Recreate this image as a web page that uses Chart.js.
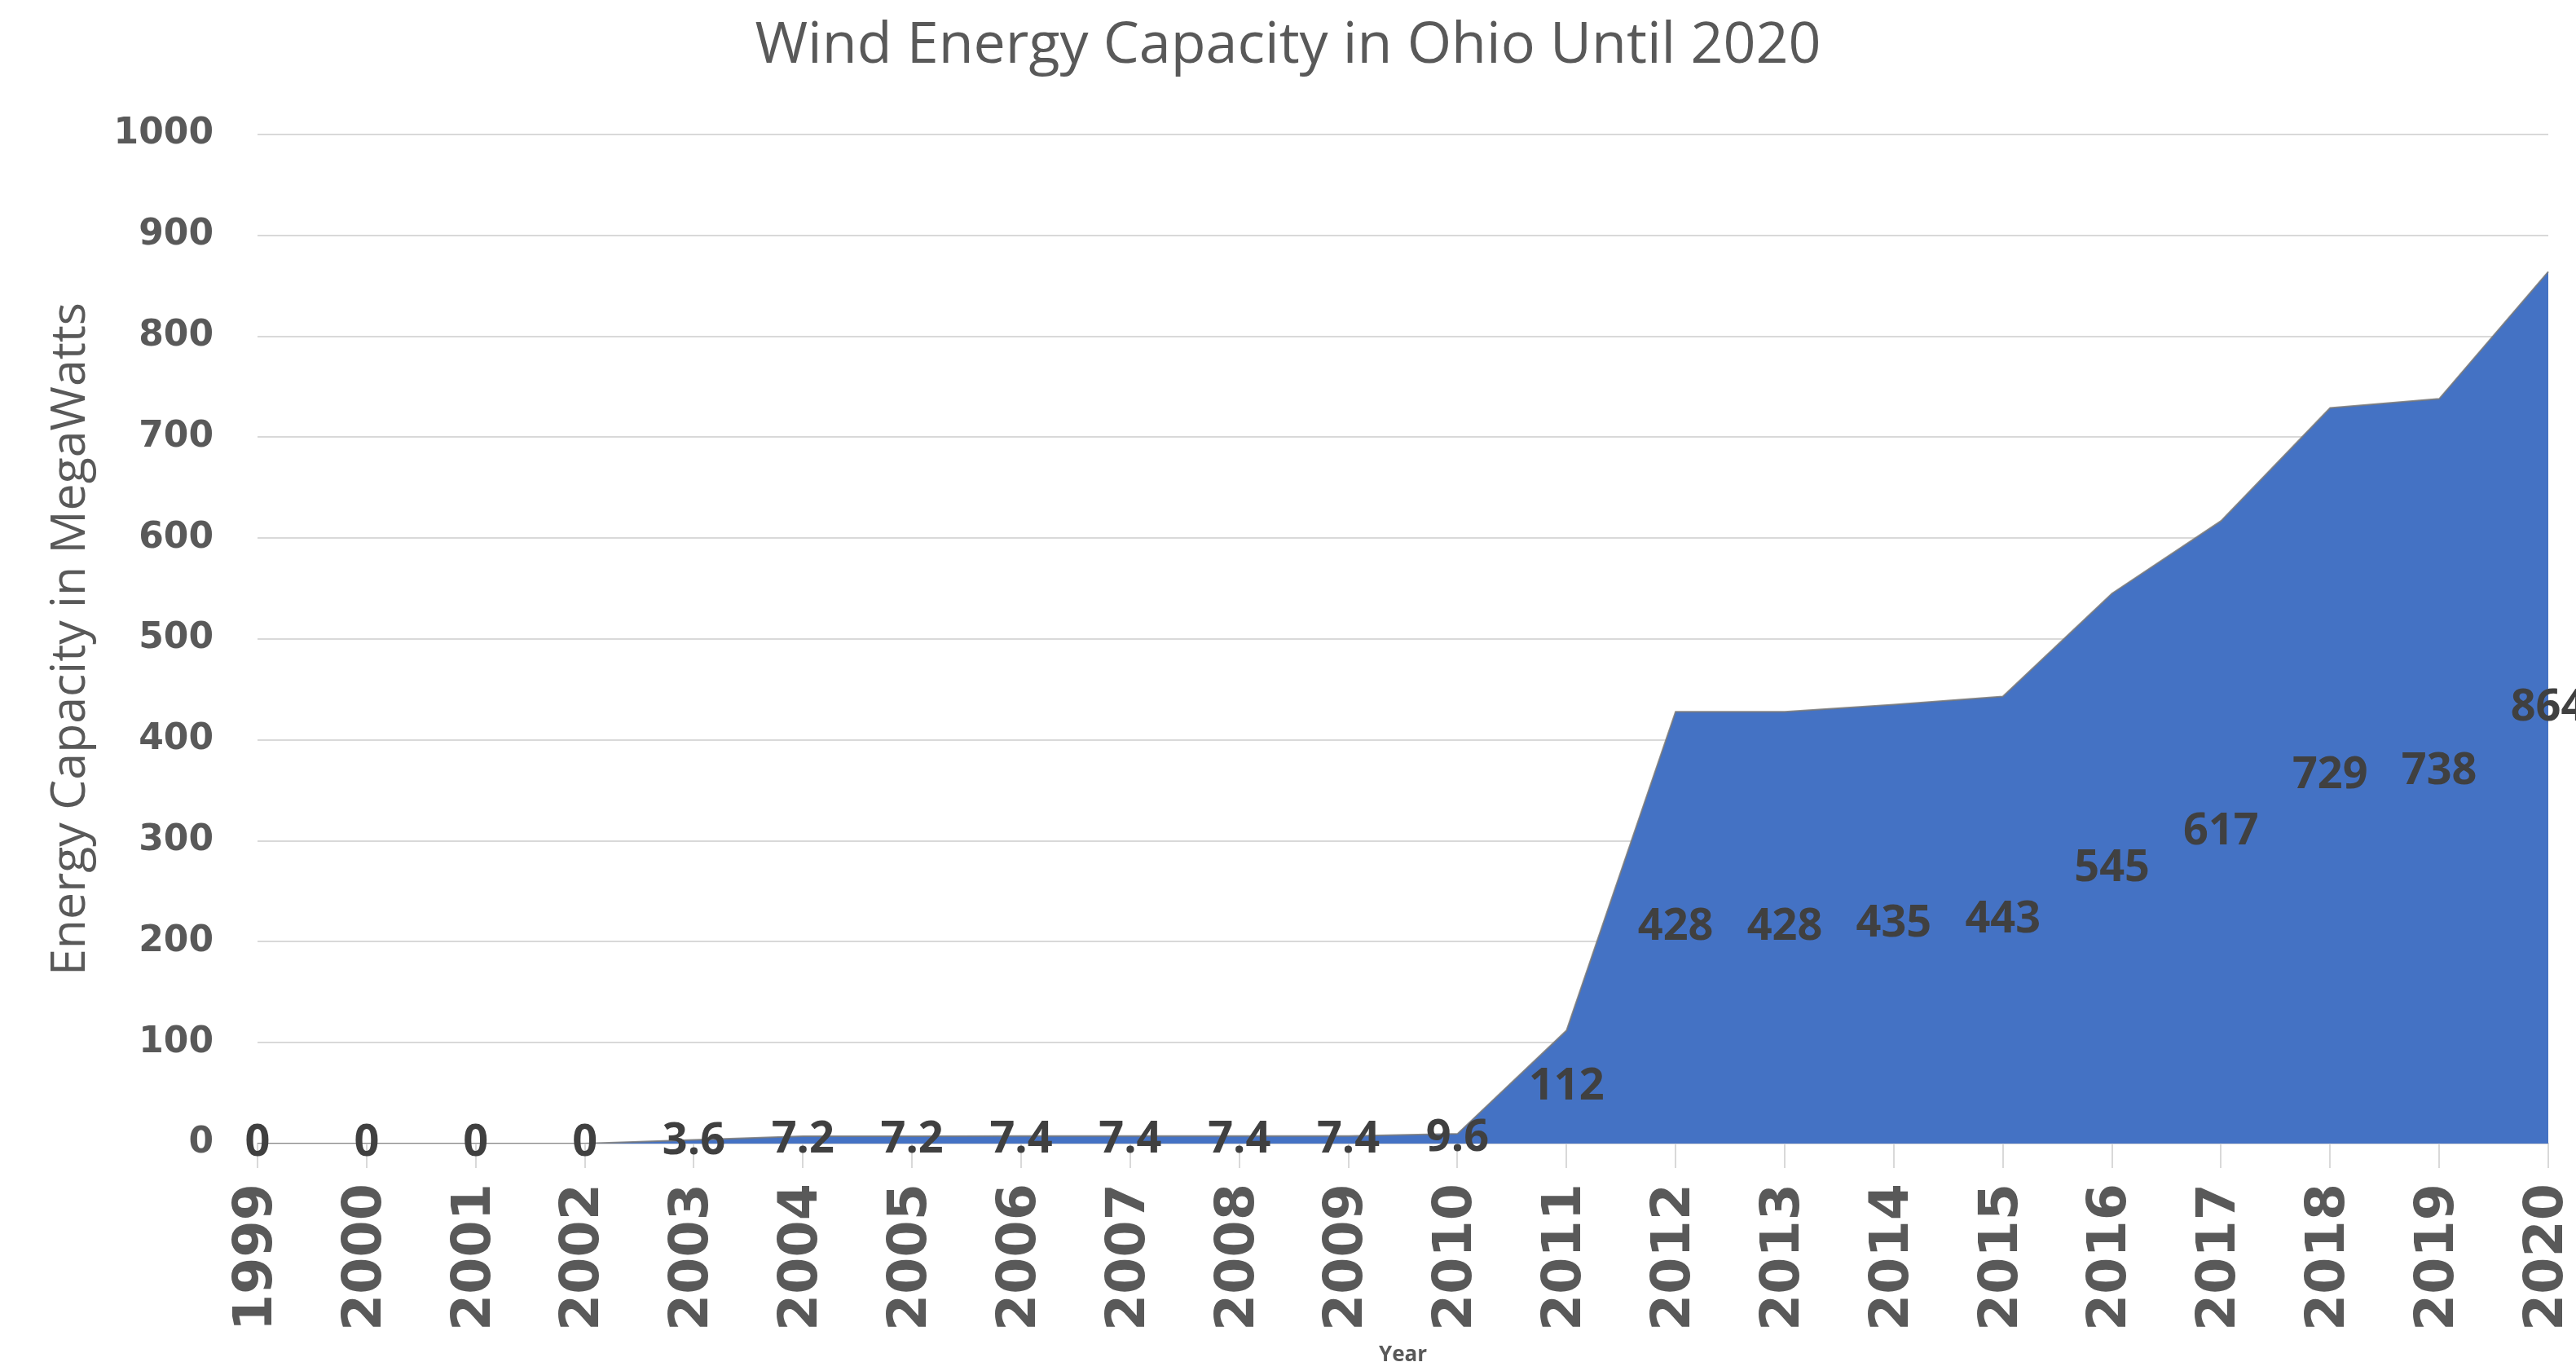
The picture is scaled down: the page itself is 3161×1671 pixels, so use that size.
<!DOCTYPE html>
<html>
<head>
<meta charset="utf-8">
<script src="https://cdn.jsdelivr.net/npm/chart.js@4"></script>
<style>
  html, body { margin: 0; padding: 0; background: #fff; overflow: hidden; }
</style>
</head>
<body>
<canvas id="windChart" width="3161" height="1671"></canvas>
<script>
//---------------------------
// DATA
//---------------------------
const years = ['1999', '2000', '2001', '2002', '2003', '2004', '2005', '2006', '2007', '2008', '2009',
               '2010', '2011', '2012', '2013', '2014', '2015', '2016', '2017', '2018', '2019', '2020'];
const capacity = [0, 0, 0, 0, 3.6, 7.2, 7.2, 7.4, 7.4, 7.4, 7.4,
                  9.6, 112, 428, 428, 435, 443, 545, 617, 729, 738, 864];
const yMin = 0;
const yMax = 1000;
const yStep = 100;

const axisGray = '#595959';
const gridGray = '#d9d9d9';

// labels sit in the middle of the filled area (value / 2), like the Excel original
const valueLabels = {
    id: 'valueLabels',
    afterDatasetsDraw(chart) {
        const c = chart.ctx;
        const meta = chart.getDatasetMeta(0);
        const yScale = chart.scales.y;
        c.save();
        c.font = 'bold 54px "Open Sans"';
        c.fillStyle = '#404040';
        c.textAlign = 'center';
        c.textBaseline = 'middle';
        meta.data.forEach(function (pt, i) {
            const v = capacity[i];
            c.fillText(String(v), pt.x, yScale.getPixelForValue(v / 2));
        });
        c.restore();
    }
};

const ctx = document.getElementById('windChart');

new Chart(ctx, {
    type: 'line',
    data: {
        labels: years,
        datasets: [{
            label: 'Wind Energy Capacity',
            data: capacity,
            fill: 'origin',
            backgroundColor: '#4472C4',
            borderColor: 'rgba(120, 120, 120, 0.85)',
            borderWidth: 2,
            pointRadius: 0,
            tension: 0
        }]
    },
    options: {
        responsive: false,
        animation: false,
        devicePixelRatio: 1,
        layout: { padding: 0 },
        plugins: {
            legend: { display: false },
            tooltip: { enabled: false },
            title: {
                display: true,
                text: 'Wind Energy Capacity in Ohio Until 2020',
                color: axisGray,
                font: { family: 'Open Sans', size: 70, weight: 'normal', lineHeight: 1.1 },
                padding: { top: 19, bottom: 69 }
            }
        },
        scales: {
            x: {
                offset: false,
                grid: {
                    drawOnChartArea: false,
                    drawTicks: true,
                    tickLength: 30,
                    color: gridGray,
                    lineWidth: 2
                },
                border: { display: true, color: gridGray, width: 2 },
                ticks: {
                    autoSkip: false,
                    minRotation: 90,
                    maxRotation: 90,
                    padding: 19,
                    color: axisGray,
                    font: { family: 'DejaVu Sans', size: 65, weight: 'bold' }
                },
                title: {
                    display: true,
                    text: 'Year',
                    color: axisGray,
                    font: { family: 'Open Sans', size: 26, weight: 'bold' },
                    padding: { top: 0, bottom: -7 }
                },
                afterFit(scale) {
                    scale.height = 268;
                    scale.paddingRight = 34;
                }
            },
            y: {
                min: yMin,
                max: yMax,
                grid: {
                    drawTicks: false,
                    color: gridGray,
                    lineWidth: 2
                },
                border: { display: false },
                ticks: {
                    stepSize: yStep,
                    padding: 54,
                    color: axisGray,
                    font: { family: 'DejaVu Sans', size: 44, weight: 'bold' },
                    callback: function (value) { return String(value); }
                },
                title: {
                    display: true,
                    text: 'Energy Capacity in MegaWatts',
                    color: axisGray,
                    font: { family: 'Open Sans', size: 59, weight: 'normal' },
                    padding: { top: 52, bottom: 0 }
                },
                afterFit(scale) {
                    scale.width = 316;
                }
            }
        }
    },
    plugins: [valueLabels]
});
</script>
</body>
</html>
